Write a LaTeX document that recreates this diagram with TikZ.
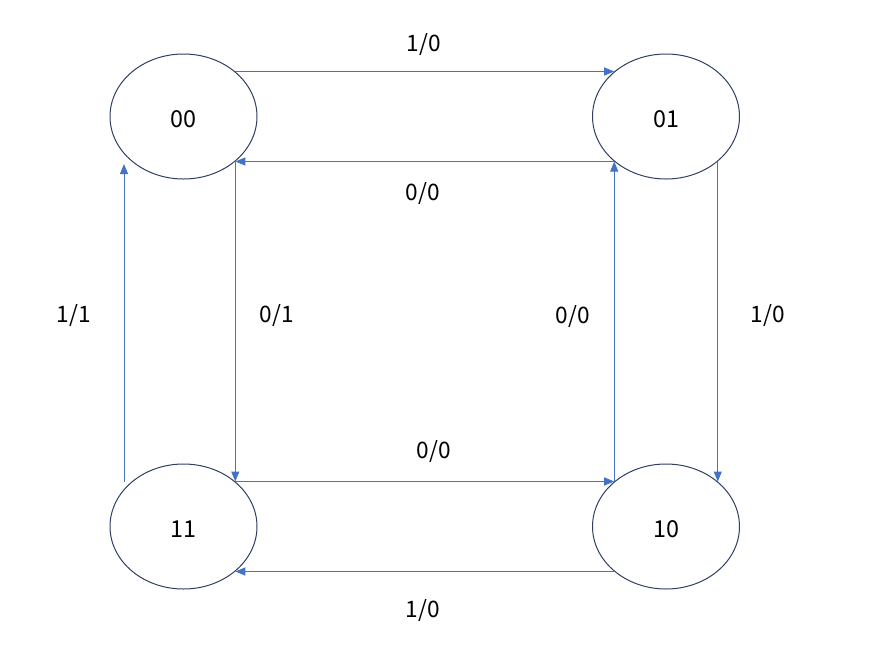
\documentclass[tikz,border=0pt]{standalone}
\usepackage{fontspec}
\setmainfont{Noto Sans CJK SC}
\usetikzlibrary{arrows.meta,shapes.geometric}
\definecolor{linkblue}{HTML}{4472C4}
\definecolor{rimblue}{HTML}{2F3F63}
\begin{document}
\begin{tikzpicture}[x=0.75pt,y=-0.75pt,
  state/.style={ellipse,draw=rimblue,line width=0.75pt,minimum width=110.25pt,
    minimum height=93.75pt,inner sep=0pt,text height=15.8pt,text depth=0pt,
    font=\fontsize{17.5}{21}\selectfont},
  link/.style={draw=linkblue,line width=0.75pt,-{Triangle[length=7.5pt,width=6pt]}},
  tag/.style={font=\fontsize{17}{20}\selectfont,inner sep=0pt}]
\useasboundingbox (0,0) rectangle (869,662);
% the four states
\node[state] (s00) at (183.5,116.5) {00};
\node[state] (s01) at (666,116.5) {01};
\node[state] (s11) at (183.5,526.5) {11};
\node[state] (s10) at (666,526.5) {10};
% free ends of the 11 -> 00 transition
\coordinate (up0) at (124,482);
\coordinate (up1) at (124,164);
% transitions
\draw[link] (s00.41) -- (s01.139);
\draw[link] (s01.-139) -- (s00.-41);
\draw[link] (s00.-41) -- (s11.41);
\draw[link] (up0) -- (up1);
\draw[link] (s10.139) -- (s01.-139);
\draw[link] (s01.-41) -- (s10.41);
\draw[link] (s11.41) -- (s10.139);
\draw[link] (s10.-139) -- (s11.-41);
% input/output labels
\node[tag] (t1) at (424,44.5) {1/0};
\node[tag] (t2) at (423,193.5) {0/0};
\node[tag] (t3) at (277,315.5) {0/1};
\node[tag] (t4) at (74,315.5) {1/1};
\node[tag] (t5) at (573,316.5) {0/0};
\node[tag] (t6) at (768,315.5) {1/0};
\node[tag] (t7) at (434,451.5) {0/0};
\node[tag] (t8) at (423,610.5) {1/0};
\end{tikzpicture}
\end{document}
